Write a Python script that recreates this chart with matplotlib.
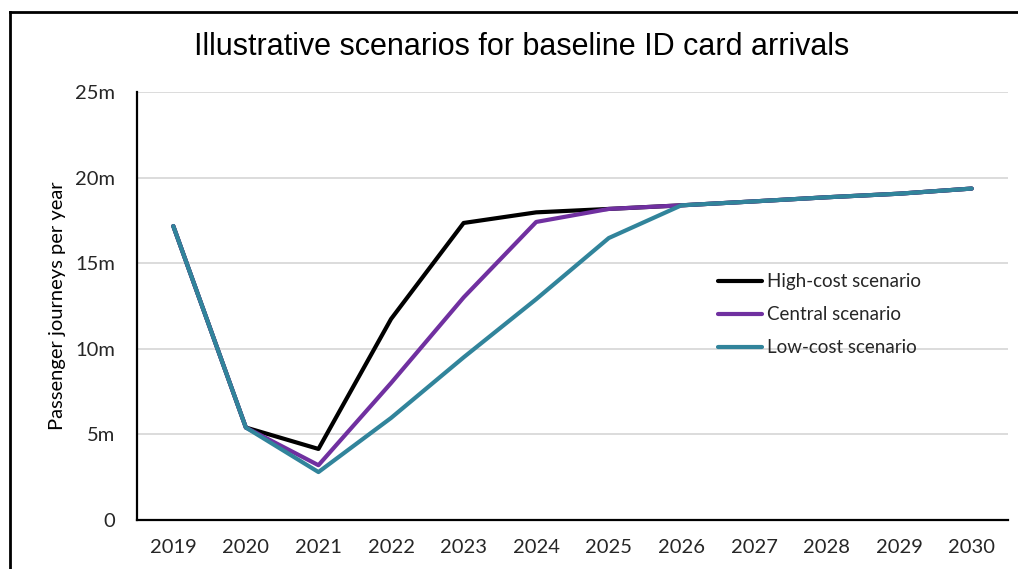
import matplotlib
matplotlib.use("Agg")
import matplotlib.pyplot as plt
from matplotlib.lines import Line2D

# ---------------------------------------------------
# DATA (millions of passenger journeys)
# ---------------------------------------------------
years = ["2019", "2020", "2021", "2022", "2023", "2024",
         "2025", "2026", "2027", "2028", "2029", "2030"]

high_cost = [17.17, 5.4, 4.15, 11.74, 17.35, 17.97,
             18.17, 18.38, 18.61, 18.85, 19.06, 19.36]
central = [17.17, 5.4, 3.2, 8.0, 13.0, 17.41,
           18.17, 18.38, 18.61, 18.85, 19.06, 19.36]
low_cost = [17.17, 5.4, 2.8, 5.96, 9.5, 12.9,
            16.47, 18.38, 18.61, 18.85, 19.06, 19.36]

y_ticks = [0, 5, 10, 15, 20, 25]
y_tick_labels = ["0", "5m", "10m", "15m", "20m", "25m"]

# ---------------------------------------------------
# FIGURE
# ---------------------------------------------------
fig = plt.figure(figsize=(10.18, 5.69), dpi=100)
ax = fig.add_axes([137 / 1018, 1 - 520 / 569, 871 / 1018, 428 / 569])

x = list(range(len(years)))

ax.plot(x, high_cost, color="black", lw=3.0, solid_capstyle="round",
        label="High-cost scenario", zorder=3)
ax.plot(x, central, color="#7030A0", lw=3.0, solid_capstyle="round",
        label="Central scenario", zorder=4)
ax.plot(x, low_cost, color="#31849B", lw=3.0, solid_capstyle="round",
        label="Low-cost scenario", zorder=5)

# ---------------------------------------------------
# AXES STYLE
# ---------------------------------------------------
ax.set_xlim(-0.5, len(years) - 0.5)
ax.set_ylim(0, 25)
ax.set_xticks(x)
ax.set_xticklabels(years, fontfamily="Lato", fontsize=14.5, color="#262626")
ax.set_yticks(y_ticks)
ax.set_yticklabels(y_tick_labels, fontfamily="Lato", fontsize=14.5, color="#262626")
ax.tick_params(axis="y", length=0, pad=16)
ax.tick_params(axis="x", length=0, pad=14)

ax.grid(axis="y", color="#D9D9D9", lw=1.3)
ax.set_axisbelow(True)
for s in ["top", "right"]:
    ax.spines[s].set_visible(False)
for s in ["left", "bottom"]:
    ax.spines[s].set_linewidth(1.6)
    ax.spines[s].set_color("black")

ax.set_ylabel("Passenger journeys per year", fontfamily="Lato",
              fontsize=14.5, color="black", labelpad=6)

fig.text(0.512, 1 - 47 / 569, "Illustrative scenarios for baseline ID card arrivals",
         ha="center", va="center", fontfamily="Liberation Sans",
         fontsize=22, color="black")

# ---------------------------------------------------
# LEGEND
# ---------------------------------------------------
leg = ax.legend(loc="upper left", bbox_to_anchor=(709 / 1018, 1 - 264 / 569),
                bbox_transform=fig.transFigure, frameon=False,
                prop={"family": "Lato", "size": 13.5}, handlelength=2.35,
                handletextpad=0.25, labelspacing=0.85, borderpad=0)
for t in leg.get_texts():
    t.set_color("#262626")

# ---------------------------------------------------
# OUTER BORDER (left and top)
# ---------------------------------------------------
fig.add_artist(Line2D([10 / 1018, 10 / 1018], [0, 1 - 12 / 569],
                      color="black", lw=2, transform=fig.transFigure))
fig.add_artist(Line2D([10 / 1018, 1], [1 - 12 / 569, 1 - 12 / 569],
                      color="black", lw=2, transform=fig.transFigure))

fig.savefig("out.png", dpi=100)
